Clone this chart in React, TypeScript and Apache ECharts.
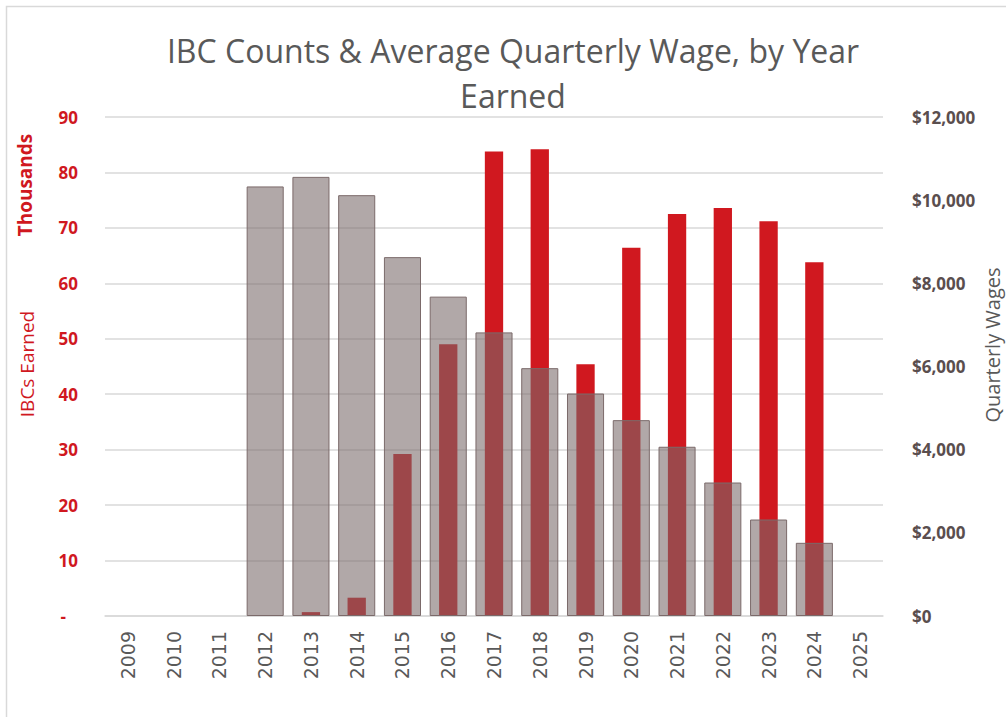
import React, { useEffect, useRef } from "react";
import * as echarts from "echarts";

const years = ["2009","2010","2011","2012","2013","2014","2015","2016","2017","2018","2019","2020","2021","2022","2023","2024","2025"];
const ibcsThousands = [null, null, null, null, 0.7, 3.3, 29.2, 49.0, 83.8, 84.2, 45.4, 66.4, 72.5, 73.6, 71.2, 63.8, null];
const avgWages = [null, null, null, 10330, 10560, 10120, 8630, 7680, 6820, 5960, 5350, 4710, 4070, 3210, 2320, 1760, null];
const titleLines = ["IBC Counts & Average Quarterly Wage, by Year", "Earned"];

const RED = "#D0181F";
const GREY_TXT = "#595959";
const FONT = "'Open Sans', 'Noto Sans', sans-serif";

export default function App() {
  const ref = useRef<HTMLDivElement>(null);
  useEffect(() => {
    document.body.style.margin = "0";
    const chart = echarts.init(ref.current!, null, { renderer: "svg" });
    chart.setOption({
      animation: false,
      backgroundColor: "#fff",
      grid: { left: 105, right: 123, top: 117, bottom: 101 },
      graphic: [
        { type: "rect", shape: { x: 6.5, y: 6.5, width: 1200, height: 900 }, style: { fill: "none", stroke: "#d9d9d9", lineWidth: 1.5 }, silent: true },
        { type: "text", x: 513, y: 50, style: { text: titleLines[0], fill: GREY_TXT, font: `32px ${FONT}`, align: "center", verticalAlign: "middle" } },
        { type: "text", x: 513, y: 95, style: { text: titleLines[1], fill: GREY_TXT, font: `32px ${FONT}`, align: "center", verticalAlign: "middle" } },
        { type: "text", x: 25, y: 185, rotation: Math.PI / 2, style: { text: "Thousands", fill: RED, font: `bold 19px ${FONT}`, align: "center", verticalAlign: "middle" } },
        { type: "text", x: 27, y: 364, rotation: Math.PI / 2, style: { text: "IBCs Earned", fill: RED, font: `19px ${FONT}`, align: "center", verticalAlign: "middle" } },
        { type: "text", x: 992, y: 345, rotation: Math.PI / 2, style: { text: "Quarterly Wages", fill: GREY_TXT, font: `20px ${FONT}`, align: "center", verticalAlign: "middle" } },
      ],
      xAxis: [
        {
          type: "category",
          data: years,
          axisLine: { lineStyle: { color: "#d9d9d9", width: 1.5 } },
          axisTick: { show: false },
          axisLabel: { rotate: 90, margin: 15, color: GREY_TXT, fontSize: 19, fontFamily: "'DejaVu Sans', sans-serif", interval: 0 },
        },
        {
          type: "category",
          data: years,
          show: false,
        },
      ],
      yAxis: [
        {
          type: "value",
          min: 0,
          max: 90,
          interval: 10,
          axisLine: { show: false },
          axisTick: { show: false },
          splitLine: { lineStyle: { color: "#d9d9d9", width: 1.5 } },
          axisLabel: {
            margin: 27,
            color: RED,
            fontSize: 17,
            fontWeight: "bold",
            fontFamily: FONT,
            formatter: (v: number) => (v === 0 ? "{z|-}" : String(v)),
            rich: { z: { padding: [0, 12, 0, 0], color: RED, fontSize: 17, fontWeight: "bold", fontFamily: FONT } },
          },
        },
        {
          type: "value",
          min: 0,
          max: 12000,
          interval: 2000,
          position: "right",
          axisLine: { show: false },
          axisTick: { show: false },
          splitLine: { show: false },
          axisLabel: {
            margin: 29,
            color: "#5a4e4e",
            fontSize: 17,
            fontWeight: "bold",
            fontFamily: FONT,
            formatter: (v: number) => "$" + v.toLocaleString("en-US"),
          },
        },
      ],
      series: [
        {
          name: "IBCs Earned",
          type: "bar",
          xAxisIndex: 0,
          yAxisIndex: 0,
          data: ibcsThousands,
          barWidth: "40%",
          itemStyle: { color: RED },
          z: 2,
        },
        {
          name: "Quarterly Wages",
          type: "bar",
          xAxisIndex: 1,
          yAxisIndex: 1,
          data: avgWages,
          barWidth: "81%",
          itemStyle: { color: "rgba(120,105,105,0.58)", borderColor: "#7b6a6a", borderWidth: 1 },
          z: 3,
        },
      ],
    });
    return () => chart.dispose();
  }, []);
  return <div ref={ref} style={{ width: 1006, height: 717 }} />;
}
